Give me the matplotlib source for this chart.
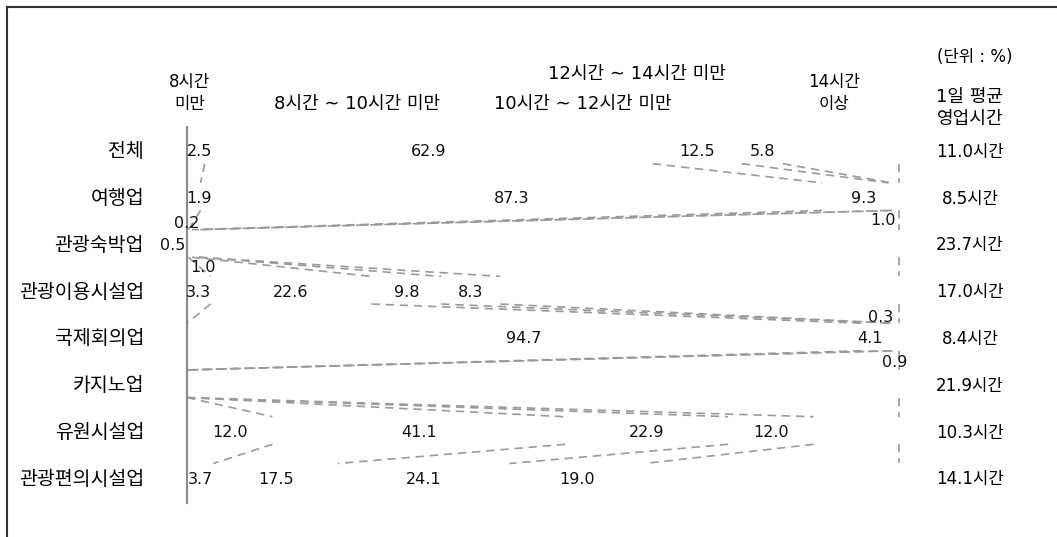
import matplotlib
matplotlib.use("Agg")
import matplotlib.pyplot as plt
import matplotlib.transforms as mtrans
import numpy as np

plt.rcParams['font.family'] = ['DejaVu Sans', 'Noto Sans CJK KR']

categories = ['전체', '여행업', '관광숙박업', '관광이용시설업', '국제회의업', '카지노업', '유원시설업', '관광편의시설업']
series_names = ['8시간\n미만', '8시간 ∼ 10시간 미만', '10시간 ∼ 12시간 미만', '12시간 ∼ 14시간 미만', '14시간\n이상']
under_8 = [2.5, 1.9, 0.2, 3.3, 0.0, 0.0, 12.0, 3.7]
h8_10 = [62.9, 87.3, 0.5, 22.6, 94.7, 0.0, 41.1, 17.5]
h10_12 = [12.5, 9.3, 1.0, 9.8, 4.1, 0.0, 22.9, 24.1]
h12_14 = [5.8, 0.5, 0.0, 8.3, 0.3, 0.0, 12.0, 19.0]
over_14 = [16.3, 1.0, 98.3, 56.0, 0.9, 100.0, 12.0, 35.7]
avg_hours = [11.0, 8.5, 23.7, 17.0, 8.4, 21.9, 10.3, 14.1]

# labels that are not printed in the source picture
hidden = {(1, 3), (0, 4), (2, 4), (3, 4), (5, 4), (6, 4), (7, 4)}
# hand placed labels for the thin segments (pixels)
nudge = {(0, 0): (4, 0), (1, 0): (5, 0), (1, 2): (8, 0), (1, 4): (-12, -22),
         (2, 0): (-1, 22), (2, 1): (-18, 0), (2, 2): (7, -22),
         (4, 2): (-6, 0), (4, 3): (-11, 21), (4, 4): (-1, -24)}

W, H = 1057, 537
fig = plt.figure(figsize=(W / 100, H / 100), dpi=100)
ax = fig.add_axes([187 / W, 1 - 503 / H, 712 / W, 376 / H])

data = np.array([under_8, h8_10, h10_12, h12_14, over_14]).T
cum = np.cumsum(data, axis=1)
left = cum - data
ypos = np.arange(len(categories))
bh = 0.59

for k in range(data.shape[1]):
    ax.barh(ypos, data[:, k], left=left[:, k], height=bh, color='white', edgecolor='none')

# series lines between neighbouring bars
for i in range(len(categories) - 1):
    for k in range(data.shape[1]):
        ax.plot([cum[i, k], cum[i + 1, k]], [i + bh / 2, i + 1 - bh / 2],
                color='#9a9a9a', lw=1.2, ls=(0, (5, 3.5)), clip_on=False)

for i in range(len(categories)):
    for k in range(data.shape[1]):
        v = data[i, k]
        if v <= 0 or (i, k) in hidden:
            continue
        dx, dy = nudge.get((i, k), (0, 0))
        ax.annotate(f'{v:.1f}', (left[i, k] + v / 2, i), xytext=(dx, dy - 2),
                    textcoords='offset pixels', ha='center', va='center',
                    fontsize=11.5, color='#111111', annotation_clip=False)

ax.set_xlim(0, 100)
ax.set_ylim(len(categories) - 0.45, -0.49)
ax.set_yticks(ypos)
ax.set_yticklabels(categories, fontsize=14)
ax.tick_params(axis='y', length=0, pad=31)
ax.set_xticks([])
for s in ['top', 'right', 'bottom']:
    ax.spines[s].set_visible(False)
ax.spines['left'].set_color('#8c8c8c')
ax.spines['left'].set_linewidth(1.6)

trans = mtrans.blended_transform_factory(ax.transAxes, ax.transData)
for i, h in enumerate(avg_hours):
    ax.annotate(f'{h:.1f}시간', ((970 - 187) / 712, i), xycoords=trans,
                xytext=(0, -2), textcoords='offset pixels',
                ha='center', va='center', fontsize=12)


def ftext(x, y, s, size=13, **kw):
    fig.text(x / W, 1 - y / H, s, ha='center', va='center', fontsize=size,
             linespacing=1.25, **kw)


ftext(190, 93, series_names[0], 12)
ftext(357, 104, series_names[1])
ftext(583, 104, series_names[2])
ftext(637, 74, series_names[3])
ftext(834, 93, series_names[4], 12)
ftext(975, 57, '(단위 : %)', 12)
ftext(970, 108, '1일 평균\n영업시간')

# frame of the clipped table
fig.add_artist(plt.Line2D([7 / W, 7 / W], [0, 1 - 7 / H], color='#333333', lw=1.5))
fig.add_artist(plt.Line2D([7 / W, 1], [1 - 7 / H, 1 - 7 / H], color='#333333', lw=1.5))

fig.savefig('out.png', dpi=100)
